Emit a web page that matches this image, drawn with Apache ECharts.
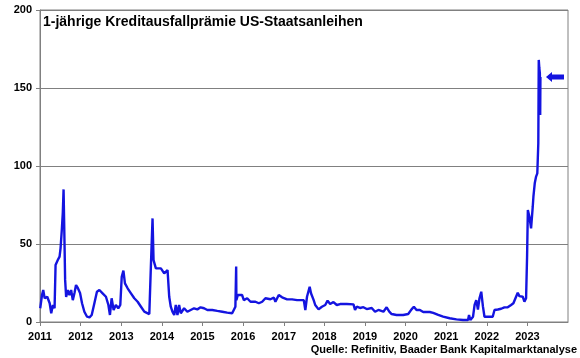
<!DOCTYPE html>
<html>
<head>
<meta charset="utf-8">
<script src="https://cdn.jsdelivr.net/npm/echarts@6/dist/echarts.min.js"></script>
<style>
html,body{margin:0;padding:0;background:#fff;}
#c{width:580px;height:358px;}
</style>
</head>
<body>
<div id="c"></div>
<script>
const titleText = '1-jährige Kreditausfallprämie US-Staatsanleihen';
const sourceText = 'Quelle: Refinitiv, Baader Bank Kapitalmarktanalyse';
const yTicks = [0, 50, 100, 150, 200];
const dates = [
'2011-01-03','2011-01-19','2011-01-30','2011-02-12','2011-03-07','2011-03-29','2011-04-12','2011-04-27','2011-05-12','2011-05-19',
'2011-05-21','2011-06-10','2011-06-26','2011-07-05','2011-07-16','2011-07-25','2011-08-01','2011-08-10','2011-08-15','2011-08-24',
'2011-09-08','2011-09-23','2011-10-08','2011-10-23','2011-11-07','2011-11-21','2011-12-07','2011-12-27','2012-01-14','2012-02-04',
'2012-02-28','2012-03-21','2012-04-10','2012-05-04','2012-05-27','2012-06-18','2012-07-17','2012-08-16','2012-09-07','2012-09-21',
'2012-10-06','2012-10-24','2012-11-13','2012-12-05','2012-12-23','2013-01-05','2013-01-20','2013-02-03','2013-02-27','2013-03-29',
'2013-04-28','2013-05-28','2013-06-27','2013-07-27','2013-09-10','2013-09-22','2013-09-24','2013-10-09','2013-10-18','2013-11-08',
'2013-12-23','2014-01-22','2014-02-21','2014-03-08','2014-03-22','2014-04-06','2014-04-22','2014-05-06','2014-05-21','2014-06-05',
'2014-06-20','2014-07-20','2014-08-18','2014-09-17','2014-10-17','2014-11-16','2014-12-15','2015-01-15','2015-02-14','2015-03-30',
'2015-05-14','2015-06-28','2015-08-11','2015-09-25','2015-10-10','2015-10-24','2015-10-31','2015-11-02','2015-11-15','2015-12-23',
'2016-01-08','2016-02-07','2016-03-08','2016-04-21','2016-05-22','2016-06-21','2016-07-20','2016-09-03','2016-10-04','2016-10-18',
'2016-11-17','2016-12-17','2017-01-31','2017-03-17','2017-05-01','2017-06-30','2017-07-14','2017-07-29','2017-08-22','2017-09-03',
'2017-09-27','2017-10-11','2017-11-10','2017-12-10','2018-01-09','2018-01-30','2018-02-22','2018-03-24','2018-04-23','2018-05-23',
'2018-07-22','2018-09-20','2018-10-04','2018-10-19','2018-11-18','2018-12-18','2019-01-17','2019-03-03','2019-04-02','2019-05-02',
'2019-06-16','2019-07-15','2019-08-08','2019-08-29','2019-10-12','2019-12-11','2020-01-25','2020-02-24','2020-03-16','2020-04-09',
'2020-05-09','2020-06-08','2020-08-06','2020-09-06','2020-10-21','2020-12-04','2021-02-01','2021-04-03','2021-06-02','2021-07-16',
'2021-07-25','2021-08-06','2021-08-30','2021-09-13','2021-09-28','2021-10-13','2021-10-27','2021-11-12','2021-11-27','2021-12-11',
'2022-01-26','2022-02-23','2022-03-11','2022-04-10','2022-05-10','2022-06-08','2022-07-08','2022-08-07','2022-08-28','2022-09-21',
'2022-10-06','2022-10-21','2022-11-20','2022-12-05','2022-12-20','2022-12-29','2023-01-05','2023-01-19','2023-02-03','2023-02-18',
'2023-02-24','2023-03-08','2023-03-20','2023-03-31','2023-04-09','2023-04-13','2023-04-18','2023-04-23','2023-04-26','2023-04-28'
];
const values = [
8.8,17.3,20.5,15.2,16.2,12,5.6,10.9,8.8,9,
36.5,39.7,41.9,47.4,59,70,85,48,27,16,
20.5,17.3,20.5,14,18.6,23.7,21.8,18.6,12,6.6,
3.4,3,4.5,12,19.4,20.5,18.4,16.2,10.9,4.5,
15.2,7.7,10.9,8.8,10.9,29,32.9,24.8,21.6,18.4,
15.2,13,9.8,6.6,5.1,5.5,35.5,66.4,39.7,34.4,
34.4,31.2,33.3,16.2,9.8,6.6,4.5,10.9,4.5,10.9,
5.6,8.8,6.6,7.7,8.8,8.1,9.4,8.8,7.7,7.7,
7.1,6.6,6,5.6,6.6,9.8,35.5,14,17.3,17.3,
14,15.2,13,13,12,13,15.2,14.6,15.6,13,
17.3,15.8,14.5,14.5,14,14,7.7,16.2,22.6,18.4,
14,10.9,8.1,9.8,10.9,13.7,11.5,12.8,10.9,11.5,
11.5,11.3,7.7,9.8,9,9.5,8.3,9,6.6,7.7,
6.6,9.4,6.6,5.1,4.5,4.5,5.1,8.1,9.8,7.7,
7.7,6.4,6.4,5.8,4.5,3.4,2.4,1.7,1.3,1.3,
4.5,1.3,3.4,10.9,14,8,15.2,19.4,10,3.4,
3.4,3.4,7.7,8,8.5,9.4,9.4,10.9,12,16.2,
18.8,16.6,16.2,13,15.2,41.9,71.8,67.5,60,73.9,
80.3,88.9,93.2,95.3,114.6,168,163,159.4,132.7,157
];
const arrowPoint = ['2023-09-06', 157];

const lineColor = '#1414e0';
const font = 'Arial, "Liberation Sans", sans-serif';
const chart = echarts.init(document.getElementById('c'), null, {renderer: 'canvas'});
chart.setOption({
  animation: false,
  backgroundColor: '#fff',
  title: {
    text: titleText, left: 38, top: 10,
    textStyle: {fontFamily: font, fontWeight: 'bold', fontSize: 14, color: '#000'}
  },
  graphic: [{
    type: 'text', right: 3, bottom: 3,
    style: {text: sourceText, font: 'bold 11px ' + font, fill: '#000'}
  }],
  grid: {left: 40, right: 12, top: 10, bottom: 36, show: true, borderColor: '#808080', borderWidth: 1},
  xAxis: {
    type: 'time',
    min: '2011-01-01', max: '2024-01-01',
    minInterval: 365 * 86400000, maxInterval: 366 * 86400000,
    axisLine: {lineStyle: {color: '#808080', width: 1}},
    axisTick: {show: true, length: 4, lineStyle: {color: '#808080'}},
    splitLine: {show: false},
    axisLabel: {
      fontFamily: font, fontWeight: 'bold', fontSize: 11, color: '#000', margin: 9,
      formatter: function (v) { const y = new Date(v).getFullYear(); return y >= 2024 ? '' : String(y); }
    }
  },
  yAxis: {
    type: 'value', min: yTicks[0], max: yTicks[yTicks.length - 1], interval: 50,
    axisLine: {show: true, lineStyle: {color: '#808080', width: 1}},
    axisTick: {show: true, length: 4, lineStyle: {color: '#808080'}},
    splitLine: {show: true, lineStyle: {color: '#808080', width: 1}},
    axisLabel: {fontFamily: font, fontWeight: 'bold', fontSize: 11, color: '#000', margin: 8}
  },
  series: [{
    type: 'line',
    data: dates.map((d, i) => [d, values[i]]),
    showSymbol: false,
    lineStyle: {color: lineColor, width: 2.4},
    markPoint: {
      silent: true,
      data: [{coord: arrowPoint, symbol: 'path://M0,5 L6,0 L6,2.5 L18,2.5 L18,7.5 L6,7.5 L6,10 Z', symbolSize: [18, 10], symbolOffset: [0, 0]}],
      itemStyle: {color: lineColor},
      label: {show: false}
    }
  }]
});
</script>
</body>
</html>
